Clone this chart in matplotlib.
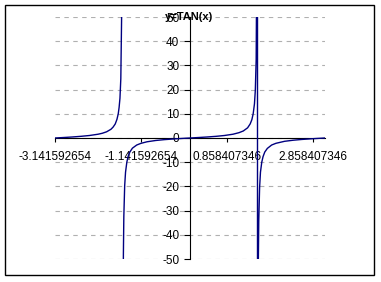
#Plot y=TAN(x) like the old spreadsheet chart
import numpy as np
import matplotlib.pyplot as plt
from matplotlib.patches import Rectangle

plt.rcParams['font.family'] = ['Liberation Sans', 'DejaVu Sans']

#Values (nan = gap at -pi/2)
x_vals = [-3.1416, -2.94, -2.74, -2.54, -2.34, -2.14, -2.04, -1.94, -1.84, -1.79,
          -1.74, -1.70, -1.67, -1.65, -1.63, -1.61, -1.59, -1.575,
          -1.57,
          -1.555, -1.55, -1.54, -1.52, -1.50, -1.47, -1.44, -1.40, -1.34, -1.24,
          -1.14, -1.0, -0.8, -0.6, -0.4, -0.2, 0.0, 0.2, 0.4, 0.6, 0.8, 1.0,
          1.14, 1.24, 1.34, 1.40, 1.44, 1.47, 1.50, 1.52, 1.54, 1.56, 1.5705,
          1.5711, 1.58, 1.59, 1.60, 1.62, 1.64, 1.67, 1.70, 1.74, 1.80, 1.90,
          2.0, 2.2, 2.4, 2.6, 2.8, 3.0, 3.1416]
y_vals = [0.0, 0.20, 0.42, 0.69, 1.03, 1.56, 1.96, 2.57, 3.60, 4.5,
          5.8, 7.7, 10.0, 12.6, 16.4, 24.5, 52.0, 240.0,
          np.nan,
          -63.0, -48.0, -32.5, -19.7, -14.1, -10.0, -7.6, -5.8, -4.2, -2.9,
          -2.2, -1.56, -1.03, -0.68, -0.42, -0.20, 0.0, 0.20, 0.42, 0.68, 1.03, 1.56,
          2.2, 2.9, 4.2, 5.8, 7.6, 10.0, 14.1, 19.7, 32.5, 93.0, 400.0,
          -400.0, -108.0, -52.0, -34.2, -20.3, -14.1, -10.0, -7.7, -5.8, -4.3, -2.9,
          -2.19, -1.37, -0.92, -0.60, -0.36, -0.14, 0.0]

x_ticks = [-3.141592654, -1.141592654, 0.858407346, 2.858407346]
y_ticks = [-50, -40, -30, -20, -10, 0, 10, 20, 30, 40, 50]

W, H = 381, 282
fig = plt.figure(figsize=(W/100, H/100), dpi=100)
ax = fig.add_axes([55/W, 1-259/H, 270/W, 242/H])

ax.plot(x_vals, y_vals, color='#000080', lw=1, zorder=3)

ax.set_xlim(-np.pi, np.pi)
ax.set_ylim(-50, 50)

#axes cross at zero
ax.spines['left'].set_position(('data', 0))
ax.spines['bottom'].set_position(('data', 0))
ax.spines['top'].set_visible(False)
ax.spines['right'].set_visible(False)
ax.spines['left'].set_linewidth(0.8)
ax.spines['bottom'].set_linewidth(0.8)

ax.set_xticks(x_ticks)
ax.set_xticklabels(['{:.9f}'.format(v) for v in x_ticks])
ax.set_yticks(y_ticks)
ax.set_yticklabels([str(v) for v in y_ticks])
ax.tick_params(axis='x', direction='out', length=3, width=0.8, pad=6.5, labelsize=8.5)
ax.tick_params(axis='y', direction='out', length=4.3, width=0.8, pad=3.4, labelsize=8.5)

ax.yaxis.grid(True, color='#b0b0b0', linestyle=(0, (4, 4)), lw=0.8)
ax.set_axisbelow(True)

fig.text(189/W, 1-17/H, 'y=TAN(x)', ha='center', va='center',
         fontsize=8, fontweight='bold')

#chart border
fig.patches.append(Rectangle((5/W, 1-275/H), 369/W, 270/H, transform=fig.transFigure,
                             fill=False, edgecolor='black', lw=1))

fig.savefig('out.png', dpi=100)
